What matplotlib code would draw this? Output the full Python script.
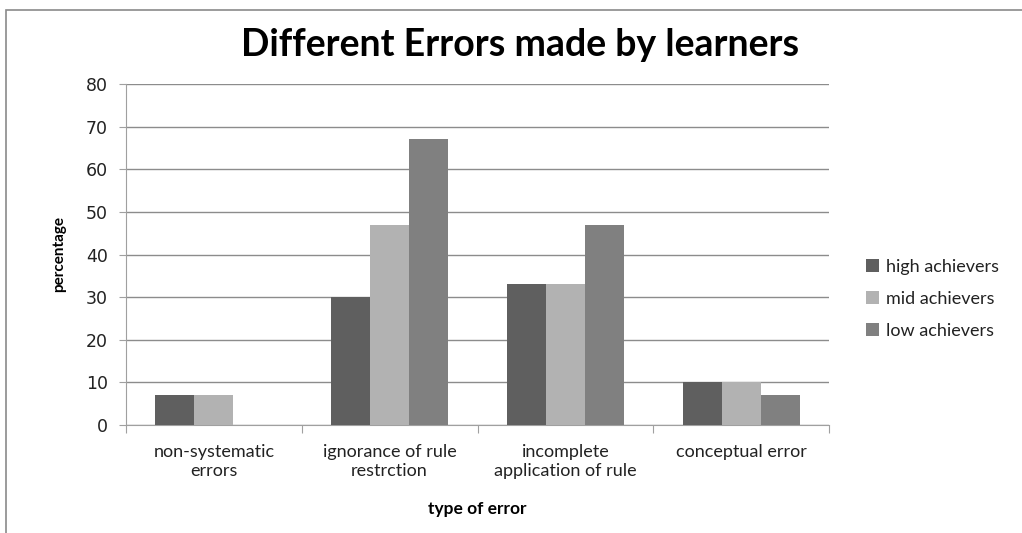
import matplotlib.pyplot as plt
import matplotlib.patches as mpatches
import numpy as np

categories = ['non-systematic\nerrors', 'ignorance of rule\nrestrction',
              'incomplete\napplication of rule', 'conceptual error']
high = [7, 30, 33, 10]
mid = [7, 47, 33, 10]
low = [0, 67, 47, 7]
series_names = ['high achievers', 'mid achievers', 'low achievers']
colors = ['#5f5f5f', '#b2b2b2', '#808080']

plt.rcParams['font.family'] = ['Lato', 'DejaVu Sans']

fig = plt.figure(figsize=(10.22, 5.33), dpi=100)
ax = fig.add_axes([126 / 1022, 1 - 425 / 533, 703 / 1022, 341 / 533])

# outer chart border
fig.patches.append(mpatches.Rectangle((6 / 1022, -0.05), 1.1, 1 - 10 / 533 + 0.05,
                                      transform=fig.transFigure, fill=False,
                                      edgecolor='#8a8a8a', linewidth=1.2))

x = np.arange(len(categories))
w = 1 / 4.5
for i, (vals, name) in enumerate(zip([high, mid, low], series_names)):
    ax.bar(x + (i - 1) * w, vals, w, color=colors[i], label=name, zorder=3)

ax.set_xlim(-0.5, len(categories) - 0.5)
ax.set_ylim(0, 80)
ax.set_yticks(range(0, 81, 10))
ax.yaxis.grid(True, color='#8c8c8c', linewidth=1)
ax.set_axisbelow(True)
for s in ['top', 'right']:
    ax.spines[s].set_visible(False)
ax.spines['left'].set_color('#a0a0a0')
ax.spines['bottom'].set_color('#a0a0a0')
ax.tick_params(axis='y', length=5, color='#a0a0a0', labelsize=12.5, pad=8)
for lab in ax.get_yticklabels():
    lab.set_family('DejaVu Sans')
    lab.set_color('#222222')

ax.set_xticks(np.arange(-0.5, len(categories), 1))
ax.set_xticklabels([])
ax.tick_params(axis='x', length=6, color='#a0a0a0')
ax.set_xticks(x, minor=True)
ax.set_xticklabels(categories, minor=True, fontsize=13, color='#222222', linespacing=1.2)
ax.tick_params(axis='x', which='minor', length=0, pad=14)

ax.set_xlabel('type of error', fontsize=12.5, fontweight='bold', labelpad=16)
ax.set_ylabel('percentage', fontsize=11, fontweight='bold', labelpad=14)

fig.text(520 / 1022, 1 - 45 / 533, 'Different Errors made by learners',
         fontsize=27, fontweight='bold', ha='center', va='center')

ax.legend(loc='center left', bbox_to_anchor=(1.03, 0.37), frameon=False,
          fontsize=13, handlelength=0.7, handleheight=0.7, handletextpad=0.4,
          labelspacing=0.9, labelcolor='#222222')

fig.savefig('out.png', dpi=100)
